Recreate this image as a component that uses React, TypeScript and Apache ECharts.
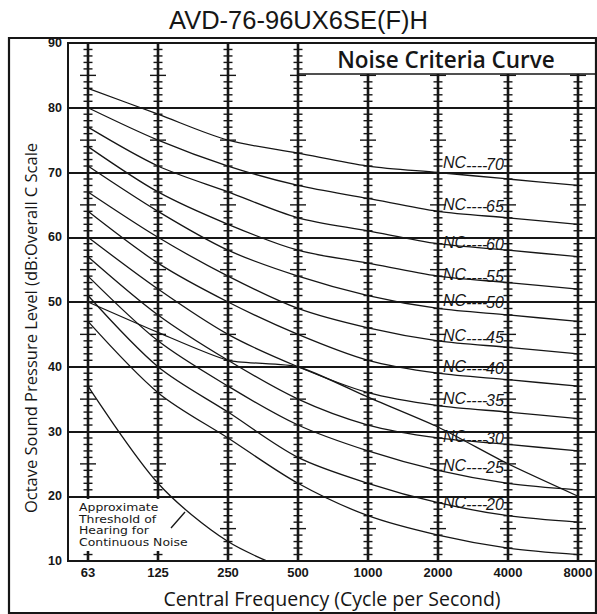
import React, { useEffect, useRef } from "react";
import * as echarts from "echarts";

const FREQS = ["63", "125", "250", "500", "1000", "2000", "4000", "8000"];
const Y_MIN = 10;
const Y_MAX = 90;

const NC15 = [47, 36, 29, 22, 17, 14, 12, 11];
const NC20 = [51, 40, 33, 26, 22, 19, 17, 16];
const NC25 = [54, 44, 37, 31, 27, 24, 22, 21];
const NC30 = [57, 48, 41, 35, 31, 29, 28, 27];
const NC35 = [60, 52, 45, 40, 36, 34, 33, 32];
const NC40 = [64, 56, 50, 45, 41, 39, 38, 37];
const NC45 = [67, 60, 54, 49, 46, 44, 43, 42];
const NC50 = [71, 64, 58, 54, 51, 49, 48, 47];
const NC55 = [74, 67, 62, 58, 56, 54, 53, 52];
const NC60 = [77, 71, 67, 63, 61, 59, 58, 57];
const NC65 = [80, 75, 71, 68, 66, 64, 63, 62];
const NC70 = [83, 79, 75, 73, 71, 70, 69, 68];
const NC_CURVES = [NC15, NC20, NC25, NC30, NC35, NC40, NC45, NC50, NC55, NC60, NC65, NC70];

const THRESHOLD = [37, 22, 13, 8];
const UNIT_CURVE = [50, 45.3, 41, 40, 35.3, 30.7, 25, 20];

const NC_NUMBERS = ["70", "65", "60", "55", "50", "45", "40", "35", "30", "25", "20"];
const NC_LABEL_Y = [71.5, 65.1, 59.2, 54.2, 50.3, 44.8, 40.1, 35.1, 29.2, 24.8, 19.1];
const NC_LABEL_X = 5;

const THRESHOLD_TEXT = ["Approximate", "Threshold of", "Hearing for", "Continuous Noise"];

const INK = "#161616";
const BOX_H = 31;

export default function App() {
  const ref = useRef<HTMLDivElement>(null);
  useEffect(() => {
    if (!ref.current) return;
    const chart = echarts.init(ref.current, null, { renderer: "svg" });
    const lineStyle = { color: INK, width: 1.3 };
    const curveSeries: any[] = NC_CURVES.map((c) => ({
      type: "line",
      data: c.map((v, i) => [i, v]),
      symbol: "none",
      smooth: 0.3,
      lineStyle,
      itemStyle: { color: INK },
      silent: true,
      z: 3,
    }));
    curveSeries.push({
      type: "line",
      data: THRESHOLD.map((v, i) => [i, v]),
      symbol: "none",
      smooth: 0.3,
      lineStyle,
      silent: true,
      z: 3,
    });
    curveSeries.push({
      type: "line",
      data: UNIT_CURVE.map((v, i) => [i, v]),
      symbol: "none",
      smooth: 0.2,
      lineStyle,
      silent: true,
      z: 3,
    });

    const thresholdTexts = THRESHOLD_TEXT.map((t, i) => ({
      type: "text",
      x: 79,
      y: 507.5 + i * 11.6,
      scaleX: 1.22,
      style: {
        text: t,
        fontFamily: "DejaVu Sans",
        fontSize: 10.2,
        fill: INK,
        textAlign: "left",
        textVerticalAlign: "middle",
      },
      z: 51,
      silent: true,
    }));

    const labelFont = {
      fontFamily: "Liberation Sans, Arial",
      fontStyle: "italic",
      fontSize: 16,
      fill: INK,
      textAlign: "left",
      textVerticalAlign: "middle",
    };

    const option: any = {
      animation: false,
      backgroundColor: "#fff",
      title: {
        text: "AVD-76-96UX6SE(F)H",
        left: "center",
        top: 2,
        textStyle: { fontFamily: "Liberation Sans, Arial", fontWeight: "normal", fontSize: 25.5, color: INK },
      },
      grid: {
        left: 68,
        right: 1,
        top: 43,
        bottom: 53,
        show: true,
        borderColor: INK,
        borderWidth: 2,
        backgroundColor: "transparent",
      },
      xAxis: {
        type: "value",
        min: -20 / 70,
        max: 7 + 18 / 70,
        axisLine: { show: false },
        axisTick: { show: false },
        splitLine: { show: false },
        axisLabel: {
          customValues: FREQS.map((_, i) => i),
          formatter: (v: number) => FREQS[Math.round(v)] ?? "",
          fontFamily: "Liberation Sans, Arial",
          fontWeight: "bold",
          fontSize: 13,
          color: INK,
          margin: 5,
        },
        name: "Central Frequency (Cycle per Second)",
        nameLocation: "middle",
        nameGap: 37,
        nameTextStyle: { fontFamily: "Open Sans", fontSize: 19.5, color: INK, verticalAlign: "middle" },
      },
      yAxis: {
        type: "value",
        min: Y_MIN,
        max: Y_MAX,
        interval: 10,
        axisLine: { show: false },
        axisTick: { show: false },
        splitLine: { show: true, lineStyle: { color: INK, width: 1.8 } },
        axisLabel: {
          fontFamily: "Liberation Sans, Arial",
          fontWeight: "bold",
          fontSize: 12.5,
          color: INK,
          margin: 6,
        },
      },
      graphic: [
        {
          type: "rect",
          shape: { x: 9, y: 38, width: 587, height: 575 },
          style: { fill: "none", stroke: INK, lineWidth: 2.2 },
          z: 100,
          silent: true,
        },
        {
          type: "text",
          x: 446,
          y: 59,
          style: {
            text: "Noise Criteria Curve",
            fontFamily: "Open Sans",
            fontWeight: 600,
            fontSize: 22.5,
            fill: INK,
            textAlign: "center",
            textVerticalAlign: "middle",
          },
          z: 100,
          silent: true,
        },
        {
          type: "rect",
          shape: { x: 70, y: 499, width: 96, height: 52 },
          style: { fill: "#fff" },
          z: 50,
          silent: true,
        },
        ...thresholdTexts,
        {
          type: "line",
          shape: { x1: 171, y1: 528, x2: 185, y2: 512 },
          style: { stroke: INK, lineWidth: 1.3 },
          z: 51,
          silent: true,
        },
        {
          type: "text",
          x: 30,
          y: 328,
          rotation: Math.PI / 2,
          style: {
            text: "Octave Sound Pressure Level (dB:Overall C Scale",
            fontFamily: "Open Sans",
            fontSize: 16.5,
            fill: INK,
            textAlign: "center",
            textVerticalAlign: "middle",
          },
          z: 100,
          silent: true,
        },
      ],
      series: [
        {
          type: "custom",
          silent: true,
          z: 2,
          data: FREQS.map((_, i) => [i, 50]),
          encode: { x: 0, y: 1 },
          renderItem: (params: any, api: any) => {
            const idx = api.value(0);
            const top = api.coord([idx, Y_MAX]);
            const bot = api.coord([idx, Y_MIN]);
            const x = top[0];
            const start = idx >= 4 ? top[1] + BOX_H : top[1];
            const children: any[] = [
              { type: "line", shape: { x1: x, y1: start, x2: x, y2: bot[1] }, style: { stroke: INK, lineWidth: 2.6 } },
            ];
            for (let v = Y_MIN + 1; v < Y_MAX; v++) {
              if (v % 10 === 0) continue;
              const y = api.coord([idx, v])[1];
              if (y < start + 1) continue;
              const hw = v % 5 === 0 ? 8 : 4.5;
              children.push({
                type: "line",
                shape: { x1: x - hw, y1: y, x2: x + hw, y2: y },
                style: { stroke: INK, lineWidth: 1.4 },
              });
            }
            if (idx === 3) {
              const cs = params.coordSys;
              children.push({
                type: "line",
                shape: { x1: x, y1: top[1] + BOX_H, x2: cs.x + cs.width, y2: top[1] + BOX_H },
                style: { stroke: INK, lineWidth: 1.6 },
              });
            }
            return { type: "group", children };
          },
        },
        ...curveSeries,
        {
          type: "custom",
          silent: true,
          z: 4,
          data: NC_NUMBERS.map((_, i) => [NC_LABEL_X, NC_LABEL_Y[i]]),
          encode: { x: 0, y: 1 },
          renderItem: (params: any, api: any) => {
            const p = api.coord([api.value(0), api.value(1)]);
            const x0 = p[0] + 5;
            const y0 = p[1];
            return {
              type: "group",
              children: [
                { type: "text", x: x0, y: y0, style: { ...labelFont, text: "NC" } },
                { type: "text", x: x0 + 23, y: y0 + 2.5, style: { ...labelFont, text: "----" } },
                { type: "text", x: x0 + 43, y: y0 + 2, style: { ...labelFont, text: NC_NUMBERS[params.dataIndex] } },
              ],
            };
          },
        },
      ],
    };
    chart.setOption(option);
    return () => chart.dispose();
  }, []);
  return (
    <div
      ref={ref}
      style={{ position: "fixed", left: 0, top: 0, width: 597, height: 614, background: "#fff" }}
    />
  );
}
